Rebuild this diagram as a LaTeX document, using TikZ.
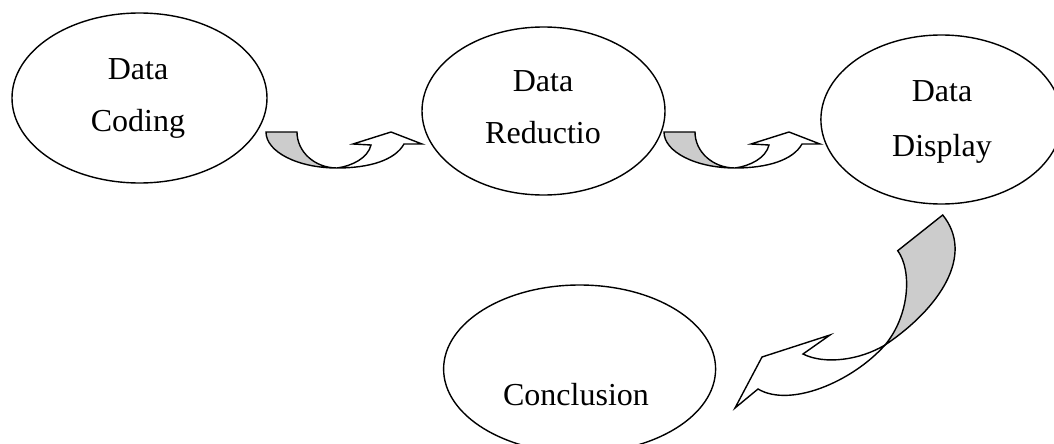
\documentclass[tikz,border=0pt]{standalone}
\usepackage{fontspec}
\setmainfont{Liberation Serif}
\usetikzlibrary{shapes.geometric}
\tikzset{
  stage/.style={draw, ellipse, line width=1.4pt, inner sep=0pt},
  caption/.style={font=\fontsize{32}{32}\selectfont, anchor=base, inner sep=0pt},
  band/.style={draw, line width=1.4pt, line join=miter},
  backband/.style={band, fill=black!20},
  frontband/.style={band, fill=white},
  % U-turn arrow: shaded back of the band, then the white front ending in the head
  uturn/.pic={
    \draw[backband] (0,0) -- (31,0) .. controls (31,20) and (49,36) .. (71,36)
      .. controls (32,36) and (0,20) .. (0,0) -- cycle;
    \draw[frontband] (71,36) .. controls (86,34) and (102,26) .. (105,13)
      -- (87,12) -- (125,0) -- (156,12) -- (138,12)
      .. controls (129,28) and (104,36) .. (71,36) -- cycle;
  }
}
\begin{document}
\begin{tikzpicture}[x=1pt,y=-1pt]
\useasboundingbox (0,0) rectangle (1054,444);

% stages
\node[stage, minimum width=255pt, minimum height=170pt] (coding) at (139.5,98) {};
\node[stage, minimum width=243pt, minimum height=168pt] (reduction) at (543.5,111) {};
\node[stage, minimum width=241pt, minimum height=169pt] (display) at (941.4,119.5) {};
\node[stage, minimum width=272pt, minimum height=168pt] (conclusion) at (579.6,369) {};

% stage texts
\node[caption] (codingA) at (138,79) {Data};
\node[caption] (codingB) at (138,131.5) {Coding};
\node[caption] (reductionA) at (543,92) {Data};
\node[caption] (reductionB) at (543,143) {Reductio};
\node[caption] (displayA) at (942,101) {Data};
\node[caption] (displayB) at (942,156) {Display};
\node[caption] (conclusionA) at (576,405) {Conclusion};

% curved arrows between the stages
\pic at (266,132) {uturn};
\pic at (664,132) {uturn};

% long curved arrow from Data Display down to Conclusion
\draw[backband] (885,345) .. controls (940,308) and (975,255) .. (942.7,215)
  -- (897.7,250.7) .. controls (912,270) and (910,315) .. (885,345) -- cycle;
\draw[frontband] (885,345) .. controls (860,360) and (825,365) .. (803,354)
  -- (830,335) -- (762,357) -- (735,408) -- (758,389)
  .. controls (790,408) and (852,382) .. (885,345) -- cycle;
\end{tikzpicture}
\end{document}
